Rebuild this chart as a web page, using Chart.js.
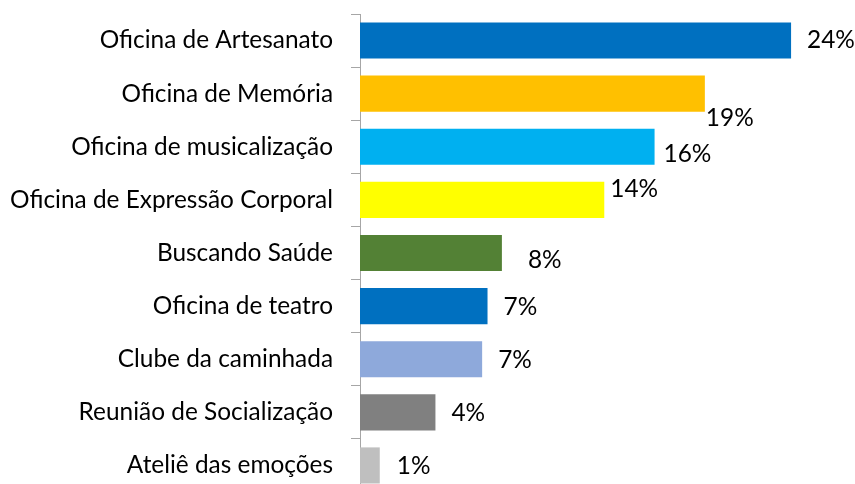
<!DOCTYPE html>
<html>
<head>
<meta charset="utf-8">
<script src="https://cdn.jsdelivr.net/npm/chart.js@4.4.1/dist/chart.umd.min.js"></script>
<style>
  html, body { margin: 0; padding: 0; background: #fff; overflow: hidden; width: 855px; height: 484px; }
  #chart { display: block; }
</style>
</head>
<body>
<canvas id="chart" width="855" height="492"></canvas>
<script>
// categories, top to bottom
const categories = [
    'Oficina de Artesanato',
    'Oficina de Memória',
    'Oficina de musicalização',
    'Oficina de Expressão Corporal',
    'Buscando Saúde',
    'Oficina de teatro',
    'Clube da caminhada',
    'Reunião de Socialização',
    'Ateliê das emoções'
];
// percentages
const values = [24.0, 19.2, 16.4, 13.6, 7.9, 7.1, 6.8, 4.2, 1.1];
const barColors = ['#0070C0', '#FFC000', '#00B0F0', '#FFFF00', '#538135', '#0070C0', '#8EA9DB', '#808080', '#BFBFBF'];
// labels were nudged by hand in the original (px from bar end)
const labelShiftX = [16, 1, 9, 6, 26, 16, 16, 16, 17];
const labelShiftY = [0, 24, 7, -11, 7, 1, 1, 1, 1];

const FONT = { family: 'Lato, "Open Sans", sans-serif', size: 24.4 };

const valueLabels = {
    id: 'valueLabels',
    afterDatasetsDraw(chart) {
        const ctx = chart.ctx;
        const meta = chart.getDatasetMeta(0);
        ctx.save();
        ctx.font = FONT.size + 'px ' + FONT.family;
        ctx.fillStyle = '#000';
        ctx.textAlign = 'left';
        ctx.textBaseline = 'middle';
        meta.data.forEach(function(bar, i) {
            ctx.fillText(Math.round(values[i]) + '%', bar.x + labelShiftX[i], bar.y + labelShiftY[i]);
        });
        ctx.restore();
    }
};

new Chart(document.getElementById('chart'), {
    type: 'bar',
    data: {
        labels: categories,
        datasets: [{
            data: values,
            backgroundColor: barColors,
            categoryPercentage: 1,
            barPercentage: 0.68
        }]
    },
    options: {
        indexAxis: 'y',
        responsive: false,
        animation: false,
        layout: { padding: { top: 14, right: 28, bottom: 0, left: 0 } },
        plugins: { legend: { display: false }, tooltip: { enabled: false } },
        scales: {
            x: { display: false, min: 0, max: 26 },
            y: {
                afterFit(scale) {
                    scale.width = 360;
                    scale.paddingTop = 0;
                    scale.paddingBottom = 0;
                },
                border: { display: true, color: '#A6A6A6', width: 1 },
                grid: { display: true, offset: true, drawOnChartArea: false, drawTicks: true, tickLength: 9, color: '#A6A6A6' },
                ticks: { color: '#000', font: FONT, padding: 18 }
            }
        }
    },
    plugins: [valueLabels]
});
</script>
</body>
</html>
